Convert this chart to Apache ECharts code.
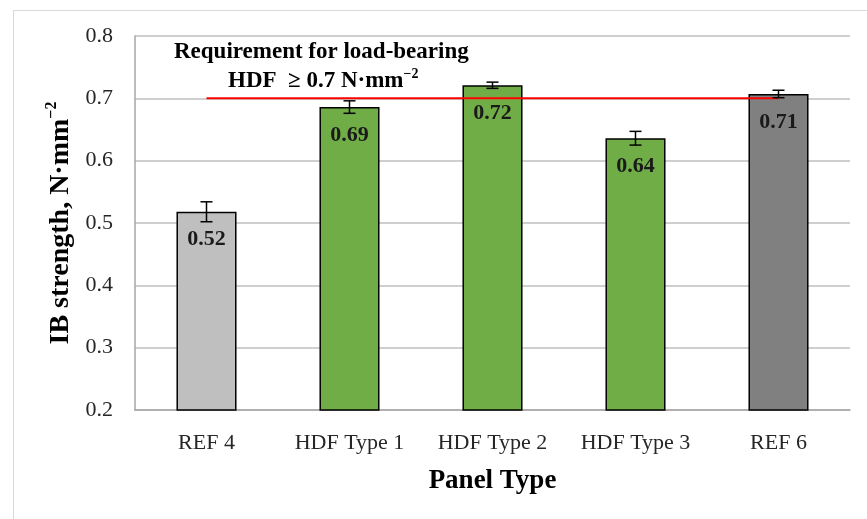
<!DOCTYPE html>
<html>
<head>
<meta charset="utf-8">
<script src="https://cdn.jsdelivr.net/npm/echarts@6/dist/echarts.min.js"></script>
<style>
  html, body { margin: 0; padding: 0; background: #fff; }
  #chart { width: 867px; height: 519px; }
</style>
</head>
<body>
<div id="chart"></div>
<script>
// data
const categories = ['REF 4', 'HDF Type 1', 'HDF Type 2', 'HDF Type 3', 'REF 6'];
const ibStrength = [0.518, 0.686, 0.721, 0.636, 0.707];
const ibError = [0.016, 0.010, 0.005, 0.011, 0.006];
const barColors = ['#bfbfbf', '#70ad47', '#70ad47', '#70ad47', '#808080'];
const requirement = [0.7, 0.7, 0.7, 0.7, 0.7];
const yTicks = { min: 0.2, max: 0.8, step: 0.1 };

const font = 'Liberation Serif';
const chart = echarts.init(document.getElementById('chart'));

// error bars drawn through the axes
const errorBars = (params, api) => {
  const i = api.value(0);
  const top = api.coord([i, api.value(1) + api.value(2)]);
  const bot = api.coord([i, api.value(1) - api.value(2)]);
  const w = 6;
  const st = { stroke: '#000', lineWidth: 1.5 };
  return {
    type: 'group',
    children: [
      { type: 'line', shape: { x1: top[0], y1: top[1], x2: bot[0], y2: bot[1] }, style: st },
      { type: 'line', shape: { x1: top[0] - w, y1: top[1], x2: top[0] + w, y2: top[1] }, style: st },
      { type: 'line', shape: { x1: bot[0] - w, y1: bot[1], x2: bot[0] + w, y2: bot[1] }, style: st }
    ]
  };
};

const option = {
  backgroundColor: '#fff',
  animation: false,
  textStyle: { fontFamily: font },
  grid: { left: 135, right: 17, top: 36, bottom: 109 },
  graphic: [
    {
      type: 'rect', silent: true, z: -10,
      shape: { x: 13.5, y: 10.5, width: 900, height: 600 },
      style: { fill: 'none', stroke: '#d9d9d9', lineWidth: 1 }
    },
    {
      type: 'text', left: 174, top: 41, z: 10,
      style: {
        text: 'Requirement for load-bearing',
        font: 'bold 23px "Liberation Serif"', fill: '#000'
      }
    },
    {
      type: 'text', left: 228, top: 67, z: 10,
      style: {
        text: '{n|HDF  \u2265 0.7 N\u00b7mm}{s|\u22122}',
        fill: '#000',
        rich: {
          n: { font: 'bold 23px "Liberation Serif"', fill: '#000', lineHeight: 26, verticalAlign: 'bottom' },
          s: { font: 'bold 14px "Liberation Serif"', fill: '#000', lineHeight: 26, verticalAlign: 'top' }
        }
      }
    }
  ],
  xAxis: {
    type: 'category',
    data: categories,
    name: 'Panel Type',
    nameLocation: 'middle',
    nameGap: 58,
    nameTextStyle: { fontFamily: font, fontSize: 27, fontWeight: 'bold', color: '#000' },
    axisLine: { lineStyle: { color: '#a6a6a6', width: 1.5 } },
    axisTick: { show: false },
    axisLabel: { fontFamily: font, fontSize: 22, color: '#262626', margin: 22 }
  },
  yAxis: {
    type: 'value',
    min: yTicks.min,
    max: yTicks.max,
    interval: yTicks.step,
    name: '{n|IB strength, N\u00b7mm}{s|\u22122}',
    nameLocation: 'middle',
    nameGap: 58,
    nameTextStyle: {
      padding: [0, 0, 0, 0],
      rich: {
        n: { fontFamily: font, fontSize: 28, fontWeight: 'bold', color: '#000', lineHeight: 31, verticalAlign: 'bottom' },
        s: { fontFamily: font, fontSize: 16, fontWeight: 'bold', color: '#000', lineHeight: 31, verticalAlign: 'top' }
      }
    },
    axisLine: { show: true, lineStyle: { color: '#a6a6a6', width: 1.5 } },
    axisTick: { show: false },
    axisLabel: { fontFamily: font, fontSize: 22, color: '#262626', margin: 22, formatter: v => v.toFixed(1) },
    splitLine: { lineStyle: { color: '#bfbfbf', width: 1.5 } }
  },
  series: [
    {
      type: 'bar',
      barWidth: '42%',
      z: 2,
      data: ibStrength.map((v, i) => ({
        value: v,
        itemStyle: { color: barColors[i], borderColor: '#000', borderWidth: 1.5 }
      })),
      label: {
        show: true,
        position: 'insideTop',
        distance: 17,
        fontFamily: font,
        fontSize: 22,
        fontWeight: 'bold',
        color: '#1a1a1a',
        formatter: p => p.value.toFixed(2)
      }
    },
    {
      type: 'line',
      data: requirement,
      z: 3,
      symbol: 'none',
      lineStyle: { color: '#ff0000', width: 2 },
      silent: true
    },
    {
      type: 'custom',
      z: 4,
      renderItem: errorBars,
      data: ibStrength.map((v, i) => [i, v, ibError[i]])
    }
  ]
};

chart.setOption(option);
</script>
</body>
</html>
